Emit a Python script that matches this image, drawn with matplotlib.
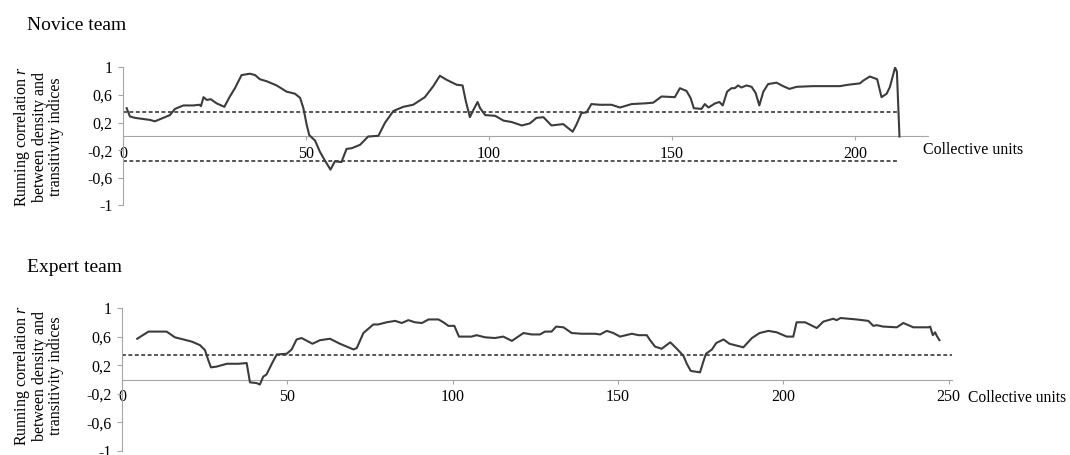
import numpy as np
import matplotlib
matplotlib.use("Agg")
import matplotlib.pyplot as plt

plt.rcParams['font.family'] = ['Liberation Serif', 'DejaVu Serif']
plt.rcParams['mathtext.fontset'] = 'custom'
plt.rcParams['mathtext.it'] = 'Liberation Serif:italic'
plt.rcParams['mathtext.rm'] = 'Liberation Serif'

# novice team running correlation
novice_x = [1, 1.9, 3.3, 7.4, 8.7, 11, 12.8, 14.2, 16.5, 19.2, 20.9, 21.3, 22, 22.9, 24,
            25.6, 27.7, 29.2, 30.6, 32.4, 34.7, 36.1, 37.4, 39.3, 42, 44.7, 47, 48.4,
            49.3, 50.2, 50.9, 52.5, 53.8, 55.2, 56.7, 57.9, 59.7, 61.1, 62.5, 64.8,
            67, 69.8, 71.6, 73.9, 76.6, 79.3, 82.5, 84.8, 86.6, 88.5, 91.2, 92.8,
            93.7, 94.8, 95.8, 96.9, 97.6, 99, 101.7, 104, 106.2, 109, 111.2, 113,
            114.9, 117.1, 120.3, 121.7, 122.9, 123.9, 125.3, 126.7, 128, 130.3,
            133.5, 135.8, 139, 142.6, 144.9, 147.2, 150.8, 152.2, 154, 155.1, 156,
            158.1, 159, 160, 161.8, 163, 163.9, 165.1, 166.3, 167.2, 168.1, 169,
            170.4, 171.8, 172.9, 173.9, 175, 176.3, 178.6, 180.4, 182.1, 184.1,
            188.6, 193.2, 195.9, 198.2, 201.4, 202.3, 204.1, 206.1, 207.3, 208.7,
            209.6, 211, 211.5, 212.2]
novice_r = [0.41, 0.29, 0.27, 0.24, 0.22, 0.27, 0.31, 0.40, 0.45, 0.45, 0.46, 0.44, 0.57,
            0.53, 0.54, 0.48, 0.43, 0.58, 0.70, 0.89, 0.91, 0.89, 0.83, 0.80, 0.74,
            0.65, 0.62, 0.56, 0.41, 0.17, 0.02, -0.06, -0.22, -0.35, -0.48, -0.36,
            -0.37, -0.18, -0.17, -0.12, 0.0, 0.01, 0.20, 0.37, 0.43, 0.46, 0.57,
            0.73, 0.88, 0.82, 0.75, 0.74, 0.51, 0.28, 0.39, 0.50, 0.41, 0.31, 0.30,
            0.23, 0.21, 0.16, 0.19, 0.27, 0.28, 0.16, 0.18, 0.12, 0.07, 0.17, 0.34,
            0.35, 0.47, 0.46, 0.46, 0.42, 0.47, 0.48, 0.49, 0.58, 0.57, 0.70, 0.66,
            0.56, 0.41, 0.40, 0.47, 0.42, 0.48, 0.50, 0.45, 0.65, 0.70, 0.70, 0.74,
            0.71, 0.74, 0.72, 0.63, 0.45, 0.65, 0.76, 0.78, 0.73, 0.69, 0.72, 0.73,
            0.73, 0.73, 0.75, 0.77, 0.81, 0.87, 0.83, 0.57, 0.62, 0.72, 1.0, 0.94,
            0.0]

# expert team running correlation
expert_x = [4.6, 8.0, 13.5, 16.0, 18.6, 21.1, 23.6, 25.1, 26.1, 26.9, 28.6, 31.7, 35.2,
            37.7, 38.7, 40.7, 41.7, 42.7, 43.7, 45.3, 46.8, 49.8, 51.3, 52.8, 54.3,
            57.6, 59.9, 62.9, 65.9, 70, 71, 73, 76, 77.5, 80, 82.6, 84.6, 86.6, 88.6,
            90.7, 92.7, 95.7, 97.2, 98.7, 100.5, 101.9, 105.7, 107.2, 109.8, 112.8,
            115.3, 117.9, 121.4, 123.9, 126.4, 127.9, 129.9, 131.3, 133.5, 136, 139,
            143, 144.6, 146.6, 148.6, 150.6, 154.2, 156.2, 158.7, 159.7, 161.2,
            163.2, 165.8, 167.8, 169.8, 170.8, 172, 174.8, 175.8, 176.6, 178.4,
            179.7, 181.9, 183.7, 187.9, 190.5, 192.8, 195.5, 198, 201, 203, 204,
            206.6, 210.1, 212.1, 215.1, 216.1, 217.3, 222.1, 225.7, 227.2, 228.2,
            230.2, 234.3, 236.3, 239.3, 243.9, 244.4, 245.2, 245.9, 246.4, 247.2]
expert_r = [0.57, 0.67, 0.67, 0.59, 0.56, 0.53, 0.48, 0.41, 0.27, 0.17, 0.18, 0.22, 0.22,
            0.23, -0.04, -0.05, -0.07, 0.04, 0.07, 0.22, 0.35, 0.36, 0.42, 0.56, 0.58,
            0.50, 0.55, 0.57, 0.50, 0.42, 0.44, 0.65, 0.77, 0.77, 0.80, 0.82, 0.79,
            0.83, 0.80, 0.79, 0.84, 0.84, 0.80, 0.75, 0.75, 0.60, 0.60, 0.62, 0.59,
            0.58, 0.60, 0.54, 0.65, 0.63, 0.63, 0.67, 0.67, 0.74, 0.73, 0.65, 0.64,
            0.64, 0.63, 0.68, 0.65, 0.60, 0.64, 0.62, 0.62, 0.55, 0.46, 0.43, 0.52,
            0.43, 0.33, 0.22, 0.12, 0.10, 0.25, 0.36, 0.42, 0.51, 0.56, 0.50, 0.45,
            0.58, 0.65, 0.68, 0.66, 0.60, 0.60, 0.80, 0.80, 0.72, 0.81, 0.85, 0.83,
            0.86, 0.84, 0.82, 0.75, 0.76, 0.74, 0.73, 0.79, 0.73, 0.73, 0.74, 0.62,
            0.66, 0.61, 0.55]

novice_thresholds = [0.35, -0.35]
expert_thresholds = [0.34]
y_ticks = [-1, -0.6, -0.2, 0.2, 0.6, 1]
y_ticklabels = ['-1', '-0,6', '-0,2', '0,2', '0,6', '1']

W, H = 1070, 455
fig = plt.figure(figsize=(10.7, 4.55), dpi=100)

def px_axes(left, right, top, bottom):
    return fig.add_axes([left / W, 1 - bottom / H, (right - left) / W, (bottom - top) / H])

ax1 = px_axes(123, 928, 67.5, 205.5)
ax2 = px_axes(122, 952, 308, 451)

line_col = '#3c3c3c'
spine_col = '#a6a6a6'

for ax, xs, ys, xmax, thr, xt, dend in [
        (ax1, novice_x, novice_r, 220, novice_thresholds, [0, 50, 100, 150, 200], 211.8),
        (ax2, expert_x, expert_r, 251, expert_thresholds, [0, 50, 100, 150, 200, 250], 251)]:
    ax.plot(xs, ys, color=line_col, lw=1.5, zorder=3)
    for t in thr:
        ax.hlines(t, 0, dend, colors='#555555', linestyles=(0, (2, 1.3)), lw=1.4)
    ax.set_xlim(0, xmax)
    ax.set_ylim(-1, 1)
    for s in ['top', 'right']:
        ax.spines[s].set_visible(False)
    ax.spines['bottom'].set_position(('data', 0))
    ax.spines['bottom'].set_color(spine_col)
    ax.spines['left'].set_color(spine_col)
    ax.set_yticks(y_ticks)
    ax.set_yticklabels(y_ticklabels)
    ax.set_xticks(xt)
    ax.set_xticklabels([str(v) for v in xt])
    ax.tick_params(axis='y', length=3.5, color=spine_col, pad=4, labelsize=11.5)
    ax.tick_params(axis='x', length=3, color=spine_col, pad=4, labelsize=11.5)
    ax.patch.set_alpha(0)

fig.text(27 / W, 1 - 25 / H, 'Novice team', fontsize=14, ha='left', va='center')
fig.text(27 / W, 1 - 267 / H, 'Expert team', fontsize=14, ha='left', va='center')

ylab = 'Running correlation $r$\nbetween density and\ntransitivity indices'
fig.text(38 / W, 1 - 137 / H, ylab, rotation=90, fontsize=11.5, ha='center', va='center',
         multialignment='center', linespacing=1.0)
fig.text(38 / W, 1 - 376 / H, ylab, rotation=90, fontsize=11.5, ha='center', va='center',
         multialignment='center', linespacing=1.0)

fig.text(923 / W, 1 - 150 / H, 'Collective units', fontsize=11.4, ha='left', va='center')
fig.text(968 / W, 1 - 398 / H, 'Collective units', fontsize=11.2, ha='left', va='center')

fig.savefig('out.png', dpi=100)
